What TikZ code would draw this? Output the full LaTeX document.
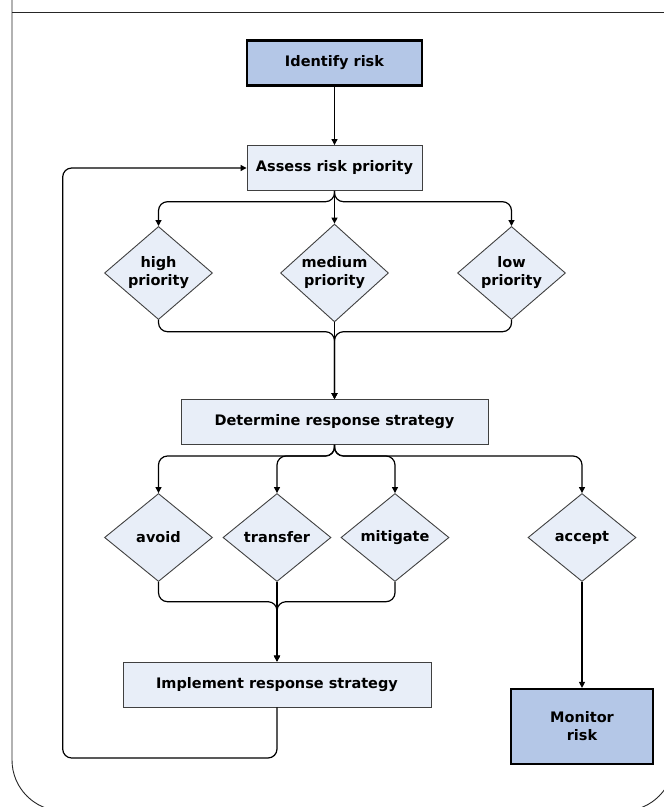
\documentclass[tikz,border=0pt]{standalone}
\usepackage{fontspec}
\setmainfont{DejaVu Sans}
\usetikzlibrary{shapes.geometric,arrows.meta,positioning}
\usepackage{xcolor}
\definecolor{keyfill}{HTML}{B4C7E7}
\definecolor{taskfill}{HTML}{E8EEF8}
\definecolor{edge}{HTML}{404040}

\begin{document}
\begin{tikzpicture}[x=1pt, y=-1pt,
  keybox/.style={rectangle, draw=black, line width=2.2pt, fill=keyfill, minimum width=175pt, minimum height=45pt, align=center, font=\bfseries\fontsize{14.5}{18}\selectfont},
  task/.style={rectangle, draw=edge, line width=0.9pt, fill=taskfill, minimum height=45pt, align=center, font=\bfseries\fontsize{14.5}{18}\selectfont},
  choice/.style={diamond, draw=edge, line width=0.9pt, fill=taskfill, minimum width=108pt, minimum height=88pt, inner sep=0pt, align=center, font=\bfseries\fontsize{14.5}{18}\selectfont},
  arr/.style={-{Triangle[length=6pt, width=6pt]}, line width=1.2pt, rounded corners=9pt}
]
  \useasboundingbox (0,0) rectangle (664,807);
  \draw[black!85, line width=1pt] (12,12) -- (680,12);
  \draw[black!85, line width=0.9pt, rounded corners=51pt] (12,0) -- (12,811) -- (674,811) -- (674,12);

  \node[keybox] (identify) at (334.5,63) {Identify risk};
  \node[task, minimum width=175pt] (assess) at (334.5,168) {Assess risk priority};
  \node[choice] (high) at (158.5,273) {high\\priority};
  \node[choice] (medium) at (334.5,273) {medium\\priority};
  \node[choice] (low) at (511.5,273) {low\\priority};
  \node[task, minimum width=307pt] (determine) at (334.5,422) {Determine response strategy};
  \node[choice] (avoid) at (158.5,537.5) {avoid};
  \node[choice] (transfer) at (277,537.5) {transfer};
  \node[choice] (mitigate) at (395,537.5) {mitigate};
  \node[choice] (accept) at (582,537.5) {accept};
  \node[task, minimum width=308pt] (implement) at (277,684.5) {Implement response strategy};
  \node[keybox, minimum width=142pt, minimum height=75pt] (monitor) at (582,726.5) {Monitor\\risk};

  \coordinate (split1) at (334.5,201.7);
  \coordinate (join1) at (334.5,331.7);
  \coordinate (split2) at (334.5,456);
  \coordinate (join2) at (277,601.7);
  \coordinate (loop) at (62.7,758);

  \draw[arr] (identify) -- (assess);
  \foreach \n in {high,medium,low}
    \draw[arr] (assess.south) -- (split1) -| (\n.north);
  \draw[arr] (high.south) |- (join1) -- (determine.north);
  \draw[arr] (low.south) |- (join1) -- (determine.north);
  \draw[arr] (medium.south) -- (determine.north);
  \foreach \n in {avoid,transfer,mitigate,accept}
    \draw[arr] (determine.south) -- (split2) -| (\n.north);
  \draw[arr] (avoid.south) |- (join2) -- (implement.north);
  \draw[arr] (mitigate.south) |- (join2) -- (implement.north);
  \draw[arr] (transfer.south) -- (implement.north);
  \draw[arr] (accept) -- (monitor);
  \draw[arr] (implement.south) |- (loop) |- (assess.west);
\end{tikzpicture}
\end{document}
